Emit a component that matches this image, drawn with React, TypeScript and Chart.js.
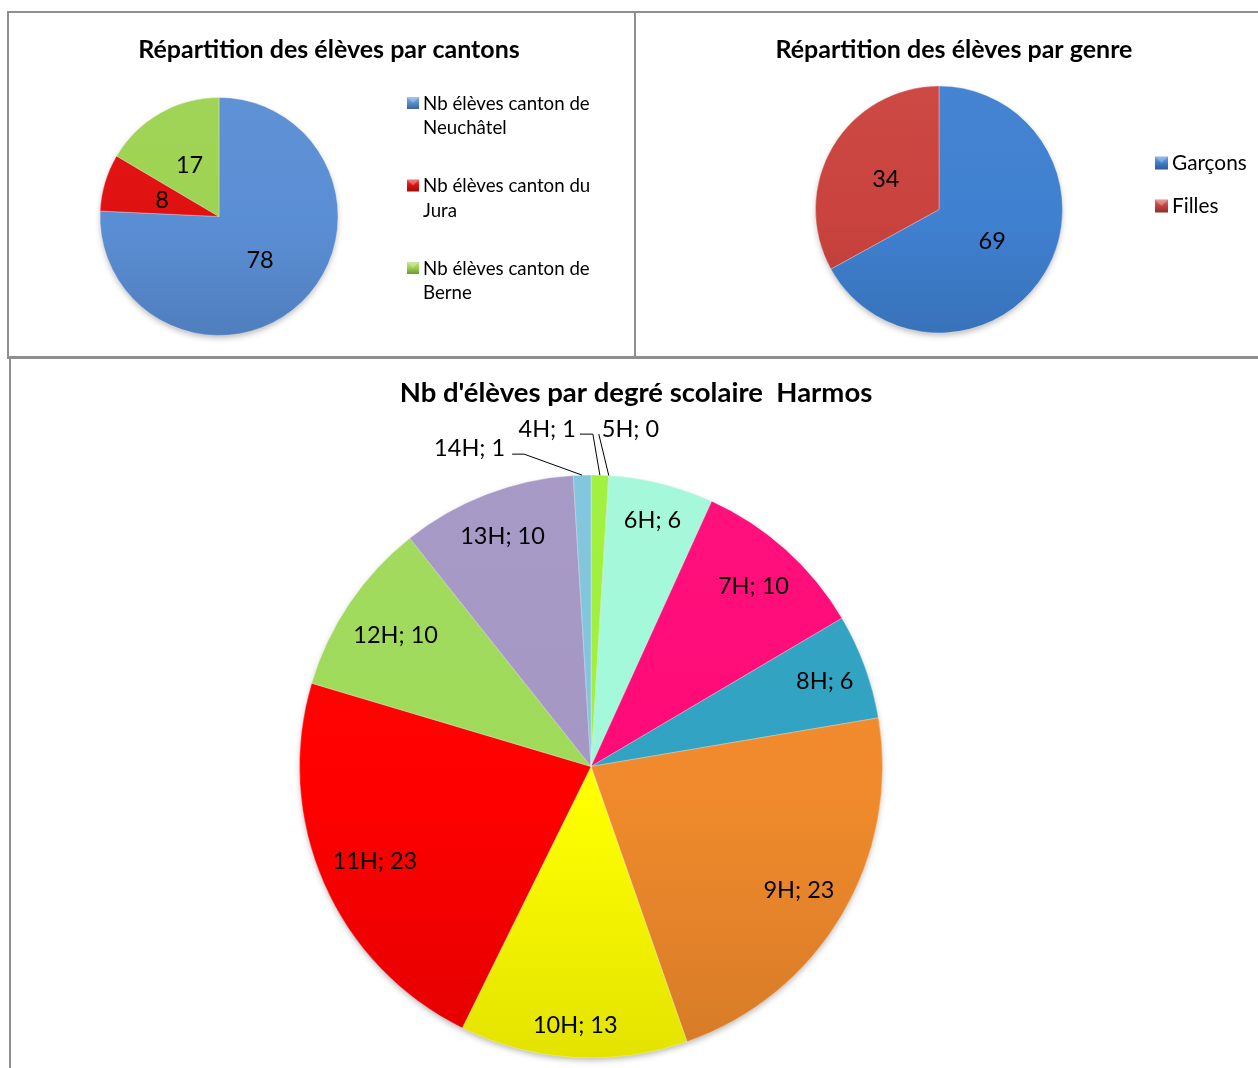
import React, { useEffect, useRef } from 'react';
import { Chart, registerables } from 'chart.js';

Chart.register(...registerables);

// ---------- data ----------
const cantonLabels = ['Nb élèves canton de Neuchâtel', 'Nb élèves canton du Jura', 'Nb élèves canton de Berne'];
const cantonValues = [78, 8, 17];
const cantonColors = ['#5A8ED4', '#E01010', '#9DD352'];
const cantonTitle = 'Répartition des élèves par cantons';

const genreLabels = ['Garçons', 'Filles'];
const genreValues = [69, 34];
const genreColors = ['#3F80D0', '#CA433E'];
const genreTitle = 'Répartition des élèves par genre';

const degreLabels = ['4H', '5H', '6H', '7H', '8H', '9H', '10H', '11H', '12H', '13H', '14H'];
const degreValues = [1, 0, 6, 10, 6, 23, 13, 23, 10, 10, 1];
const degreColors = ['#A0F03A', '#C0504D', '#A3F8DA', '#FF0A78', '#31A2C2', '#F08A2C', '#FFFF00', '#FF0000', '#9FDA5A', '#A597C4', '#7FC4DD'];
const degreTitle = "Nb d'élèves par degré scolaire  Harmos";

// ---------- layout / style ----------
const W = 1258;
const H = 1068;
const FONT = 'Lato, "Noto Sans", "DejaVu Sans", sans-serif';
const GRID = '#8e8e8e';
const TITLE_SIZE = 25;
const BIG_TITLE_SIZE = 27.5;
const LABEL_SIZE = 23.5;

const OUTSIDE: Record<string, { tx: number; ty: number; align: CanvasTextAlign; leader: [number, number][] }> = {
  '14H': { tx: -77, ty: -28, align: 'right', leader: [[-70, -21], [-58, -21]] },
  '4H': { tx: -24, ty: -47, align: 'right', leader: [[-20, -41], [-7, -41]] },
  '5H': { tx: -7, ty: -47.5, align: 'left', leader: [[-10, -41.5]] },
};

function shade(hex: string, f: number): string {
  const n = parseInt(hex.slice(1), 16);
  let r = (n >> 16) & 255, g = (n >> 8) & 255, b = n & 255;
  if (f >= 0) {
    r += (255 - r) * f; g += (255 - g) * f; b += (255 - b) * f;
  } else {
    r *= 1 + f; g *= 1 + f; b *= 1 + f;
  }
  return `rgb(${Math.round(r)},${Math.round(g)},${Math.round(b)})`;
}

function gradientFill(colors: string[]) {
  return (c: any) => {
    const base = colors[c.dataIndex];
    const area = c.chart.chartArea;
    if (!area) return base;
    const g = c.chart.ctx.createLinearGradient(0, area.top, 0, area.bottom);
    g.addColorStop(0, shade(base, 0.03));
    g.addColorStop(0.55, base);
    g.addColorStop(1, shade(base, -0.11));
    return g;
  };
}

function padFor(cx: number, cy: number, r: number) {
  return { left: cx - r, top: cy - r, right: W - (cx + r), bottom: H - (cy + r) };
}

function setFont(ctx: CanvasRenderingContext2D, size: number, bold = false) {
  ctx.font = `${bold ? 'bold ' : ''}${size}px ${FONT}`;
}

function text(ctx: CanvasRenderingContext2D, s: string, x: number, yc: number, size: number, bold = false, align: CanvasTextAlign = 'center') {
  setFont(ctx, size, bold);
  ctx.fillStyle = '#000';
  ctx.textAlign = align;
  ctx.textBaseline = 'alphabetic';
  ctx.fillText(s, x, yc + size * 0.36);
}

function wrap(ctx: CanvasRenderingContext2D, s: string, maxW: number): string[] {
  const words = s.split(' ');
  const lines: string[] = [];
  let cur = '';
  for (const w of words) {
    const t = cur ? cur + ' ' + w : w;
    if (ctx.measureText(t).width > maxW && cur) {
      lines.push(cur);
      cur = w;
    } else cur = t;
  }
  if (cur) lines.push(cur);
  return lines;
}

function swatch(ctx: CanvasRenderingContext2D, x: number, yc: number, s: number, color: string) {
  const g = ctx.createLinearGradient(0, yc - s / 2, 0, yc + s / 2);
  g.addColorStop(0, shade(color, 0.3));
  g.addColorStop(0.45, color);
  g.addColorStop(1, shade(color, -0.3));
  ctx.fillStyle = g;
  ctx.fillRect(x, yc - s / 2, s, s);
  ctx.fillStyle = 'rgba(255,255,255,0.25)';
  ctx.beginPath();
  ctx.moveTo(x, yc - s / 2);
  ctx.lineTo(x + s, yc - s / 2);
  ctx.lineTo(x + s / 2, yc);
  ctx.closePath();
  ctx.fill();
}

function arcs(chart: any) {
  return chart.getDatasetMeta(0).data.map((arc: any) =>
    arc.getProps(['x', 'y', 'startAngle', 'endAngle', 'outerRadius'], true)
  );
}

function shadowPlugin() {
  return {
    id: 'pieShadow',
    beforeDatasetsDraw(chart: any) {
      const a = arcs(chart)[0];
      if (!a) return;
      const ctx = chart.ctx as CanvasRenderingContext2D;
      ctx.save();
      ctx.shadowColor = 'rgba(0,0,0,0.3)';
      ctx.shadowBlur = 6;
      ctx.shadowOffsetY = 3;
      ctx.fillStyle = '#888';
      ctx.beginPath();
      ctx.arc(a.x, a.y, a.outerRadius - 1, 0, Math.PI * 2);
      ctx.fill();
      ctx.restore();
    },
  };
}

function centerLabelsPlugin(values: number[]) {
  return {
    id: 'centerLabels',
    afterDatasetsDraw(chart: any) {
      const ctx = chart.ctx as CanvasRenderingContext2D;
      arcs(chart).forEach((p: any, i: number) => {
        const a = (p.startAngle + p.endAngle) / 2;
        const d = p.outerRadius * 0.5;
        text(ctx, String(values[i]), p.x + d * Math.cos(a), p.y + d * Math.sin(a), LABEL_SIZE);
      });
    },
  };
}

function baseOptions(pad: any) {
  return {
    responsive: false,
    animation: false as const,
    layout: { padding: pad },
    events: [],
    plugins: { legend: { display: false }, title: { display: false }, tooltip: { enabled: false } },
  };
}

function dataset(values: number[], colors: string[]) {
  return {
    data: values,
    backgroundColor: gradientFill(colors),
    borderColor: 'rgba(255,255,255,0.3)',
    borderWidth: 1,
  };
}

function cantonConfig(): any {
  return {
    type: 'pie',
    data: { labels: cantonLabels, datasets: [dataset(cantonValues, cantonColors)] },
    options: baseOptions(padFor(219, 216.5, 119.5)),
    plugins: [
      shadowPlugin(),
      centerLabelsPlugin(cantonValues),
      {
        id: 'deco',
        afterDraw(chart: any) {
          const ctx = chart.ctx as CanvasRenderingContext2D;
          text(ctx, cantonTitle, 329, 49, TITLE_SIZE, true);
          cantonLabels.forEach((lab, i) => {
            const y0 = 103 + i * 82.5;
            swatch(ctx, 407, y0, 12, cantonColors[i]);
            setFont(ctx, 18.7);
            wrap(ctx, lab, 180).forEach((ln, j) => text(ctx, ln, 423, y0 + j * 24.5, 18.7, false, 'left'));
          });
        },
      },
    ],
  };
}

function genreConfig(): any {
  return {
    type: 'pie',
    data: { labels: genreLabels, datasets: [dataset(genreValues, genreColors)] },
    options: baseOptions(padFor(939, 209.5, 124)),
    plugins: [
      shadowPlugin(),
      centerLabelsPlugin(genreValues),
      {
        id: 'deco',
        afterDraw(chart: any) {
          const ctx = chart.ctx as CanvasRenderingContext2D;
          text(ctx, genreTitle, 954, 49, TITLE_SIZE, true);
          genreLabels.forEach((lab, i) => {
            const y0 = 163 + i * 43;
            swatch(ctx, 1155, y0, 13, genreColors[i]);
            text(ctx, lab, 1172, y0, 20.8, false, 'left');
          });
        },
      },
    ],
  };
}

function degreConfig(): any {
  return {
    type: 'pie',
    data: { labels: degreLabels, datasets: [dataset(degreValues, degreColors)] },
    options: baseOptions(padFor(591, 766.5, 292)),
    plugins: [
      shadowPlugin(),
      {
        id: 'degreLabels',
        afterDatasetsDraw(chart: any) {
          const ctx = chart.ctx as CanvasRenderingContext2D;
          arcs(chart).forEach((p: any, i: number) => {
            const lab = `${degreLabels[i]}; ${degreValues[i]}`;
            const a = (p.startAngle + p.endAngle) / 2;
            const ux = Math.cos(a), uy = Math.sin(a);
            const out = OUTSIDE[degreLabels[i]];
            if (out) {
              const px = p.x + p.outerRadius * ux;
              const py = p.y + p.outerRadius * uy;
              ctx.save();
              ctx.strokeStyle = '#000';
              ctx.lineWidth = 1;
              ctx.beginPath();
              out.leader.forEach(([lx, ly], k) => (k === 0 ? ctx.moveTo(px + lx, py + ly) : ctx.lineTo(px + lx, py + ly)));
              ctx.lineTo(px, py);
              ctx.stroke();
              ctx.restore();
              text(ctx, lab, px + out.tx, py + out.ty, LABEL_SIZE, false, out.align);
              return;
            }
            setFont(ctx, LABEL_SIZE);
            const w = ctx.measureText(lab).width;
            const h = 46;
            const he = (w / 2) * Math.abs(ux) + (h / 2) * Math.abs(uy);
            const d = p.outerRadius - 7.7 - he;
            text(ctx, lab, p.x + d * ux, p.y + d * uy, LABEL_SIZE);
          });
        },
        afterDraw(chart: any) {
          text(chart.ctx, degreTitle, 636, 392.5, BIG_TITLE_SIZE, true);
        },
      },
    ],
  };
}

function PieCanvas({ build }: { build: () => any }) {
  const ref = useRef<HTMLCanvasElement>(null);
  useEffect(() => {
    if (!ref.current) return;
    const chart = new Chart(ref.current, build());
    return () => chart.destroy();
  }, [build]);
  return (
    <canvas
      ref={ref}
      width={W}
      height={H}
      style={{ position: 'absolute', left: 0, top: 0, width: W, height: H }}
    />
  );
}

const box = (left: number, top: number, width: number, height: number): React.CSSProperties => ({
  position: 'absolute',
  left,
  top,
  width,
  height,
  boxSizing: 'border-box',
  border: `2px solid ${GRID}`,
});

export default function App() {
  return (
    <div style={{ position: 'absolute', left: 0, top: 0, width: W, height: H, overflow: 'hidden', background: '#fff' }}>
      <div style={box(7, 11, 629, 348)} />
      <div style={box(634, 11, 640, 348)} />
      <div style={box(9, 356, 1270, 730)} />
      <PieCanvas build={cantonConfig} />
      <PieCanvas build={genreConfig} />
      <PieCanvas build={degreConfig} />
    </div>
  );
}
